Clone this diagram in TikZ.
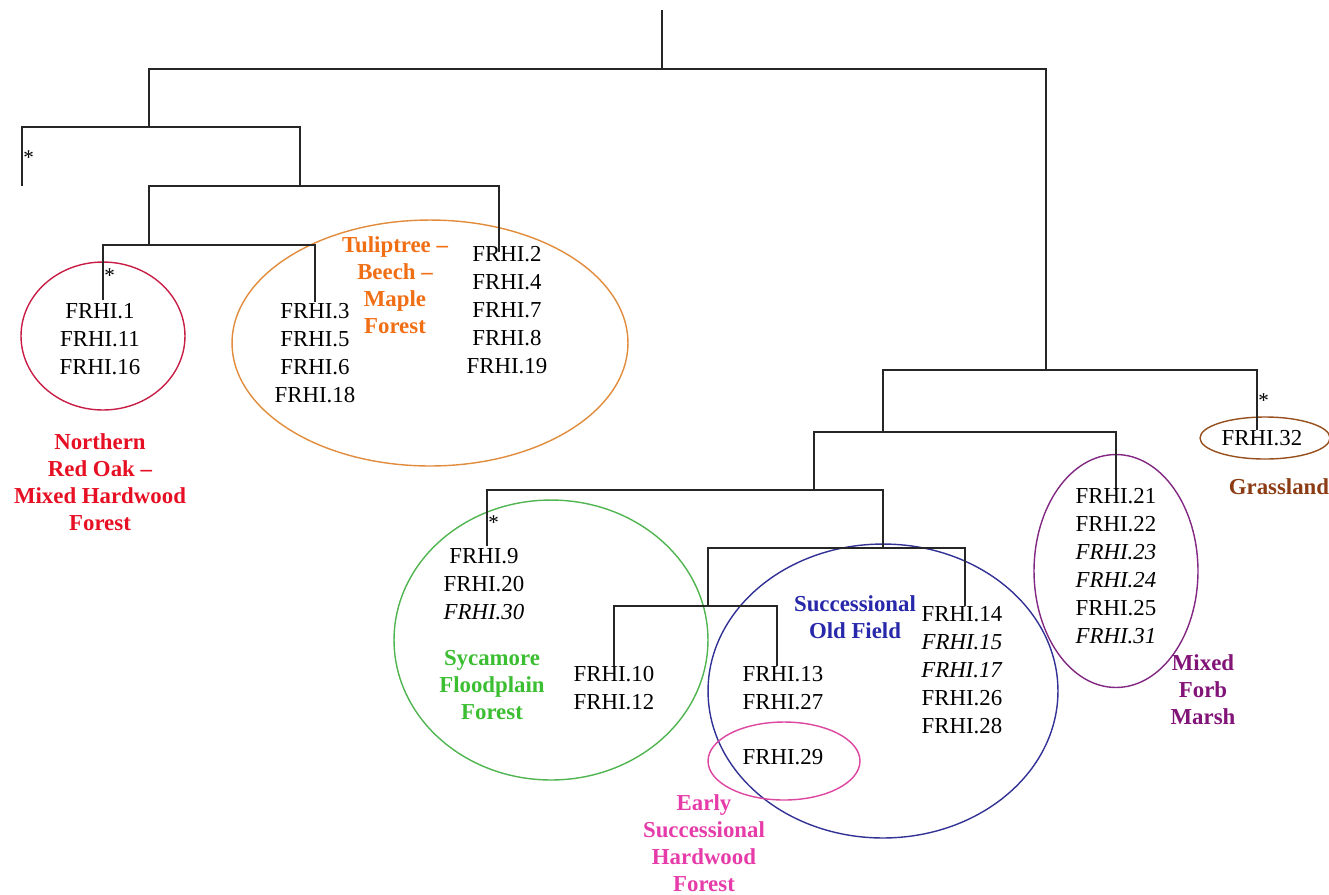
\documentclass[tikz,border=0pt]{standalone}
\usepackage{fontspec}
\setmainfont{Liberation Serif}
\definecolor{oakred}{RGB}{230,15,35}
\definecolor{oakring}{RGB}{200,30,70}
\definecolor{tulip}{RGB}{240,110,20}
\definecolor{tulipring}{RGB}{225,140,60}
\definecolor{syc}{RGB}{60,190,50}
\definecolor{sycring}{RGB}{80,180,80}
\definecolor{early}{RGB}{230,60,170}
\definecolor{earlyring}{RGB}{220,70,160}
\definecolor{succ}{RGB}{40,40,170}
\definecolor{succring}{RGB}{50,50,150}
\definecolor{marsh}{RGB}{130,20,120}
\definecolor{marshring}{RGB}{130,40,130}
\definecolor{grass}{RGB}{140,60,20}
\definecolor{grassring}{RGB}{150,80,30}
\begin{document}
\begin{tikzpicture}[x=0.02cm,y=-0.02cm,
    link/.style={line width=1.1pt,black!85},
    leaf/.style={align=center,inner sep=0pt,font=\fontsize{13}{16}\selectfont},
    tag/.style={align=center,inner sep=0pt,font=\fontsize{13}{15.4}\selectfont\bfseries},
    ring/.style={line width=0.8pt},
    star/.style={anchor=west,inner sep=0pt,font=\fontsize{12}{12}\selectfont}]
\useasboundingbox (0,0) rectangle (1329,894);

            % groups
            \draw[ring,oakring] (103,336) ellipse [x radius=1.64cm,y radius=1.48cm];
            \draw[ring,tulipring] (430,343) ellipse [x radius=3.96cm,y radius=2.46cm];
            \draw[ring,sycring] (551,640) ellipse [x radius=3.14cm,y radius=2.8cm];
            \draw[ring,succring] (883,691) ellipse [x radius=3.5cm,y radius=2.94cm];
            \draw[ring,earlyring] (784,761) ellipse [x radius=1.52cm,y radius=0.78cm];
            \draw[ring,marshring] (1116,571) ellipse [x radius=1.64cm,y radius=2.33cm];
            \draw[ring,grassring] (1265,438) ellipse [x radius=1.3cm,y radius=0.42cm];

            % vertices
            \coordinate (top) at (662,10);
            \coordinate (r0) at (662,69);
            \coordinate (c1) at (149,127);
            \coordinate (c2) at (1046,370);
            \coordinate (c3) at (300,186);
            \coordinate (c4) at (149,245);
            \coordinate (c5) at (883,432);
            \coordinate (c6) at (814,490);
            \coordinate (c7) at (883,548);
            \coordinate (c8) at (708,606);
            \coordinate (t0) at (22,186);
            \coordinate (t1) at (103,300);
            \coordinate (t3) at (315,302);
            \coordinate (t2) at (499,252);
            \coordinate (t9) at (487,546);
            \coordinate (t10) at (614,666);
            \coordinate (t13) at (777,666);
            \coordinate (t14) at (965,606);
            \coordinate (t21) at (1116,490);
            \coordinate (t32) at (1257,430);

            % edges
            \draw[link] (top) -- (r0);
            \draw[link] (c1) |- (r0) -| (c2);
            \draw[link] (t0) |- (c1) -| (c3);
            \draw[link] (c4) |- (c3) -| (t2);
            \draw[link] (t1) |- (c4) -| (t3);
            \draw[link] (c5) |- (c2) -| (t32);
            \draw[link] (c6) |- (c5) -| (t21);
            \draw[link] (t9) |- (c6) -| (c7);
            \draw[link] (c8) |- (c7) -| (t14);
            \draw[link] (t10) |- (c8) -| (t13);

            % stars
            \node[star] (s0) at (23,158) {*};
            \node[star] (s1) at (104,276) {*};
            \node[star] (s9) at (488,523) {*};
            \node[star] (s32) at (1258,401) {*};

            % leaves
            \node[leaf] (l1) at (100,339) {FRHI.1\\FRHI.11\\FRHI.16};
            \node[leaf] (l3) at (315,353) {FRHI.3\\FRHI.5\\FRHI.6\\FRHI.18};
            \node[leaf] (l2) at (507,310) {FRHI.2\\FRHI.4\\FRHI.7\\FRHI.8\\FRHI.19};
            \node[leaf] (l9) at (484,584) {FRHI.9\\FRHI.20\\\textit{FRHI.30}};
            \node[leaf] (l10) at (614,688) {FRHI.10\\FRHI.12};
            \node[leaf] (l13) at (783,688) {FRHI.13\\FRHI.27};
            \node[leaf] (l29) at (783,757) {FRHI.29};
            \node[leaf] (l14) at (962,670) {FRHI.14\\\textit{FRHI.15}\\\textit{FRHI.17}\\FRHI.26\\FRHI.28};
            \node[leaf] (l21) at (1116,566) {FRHI.21\\FRHI.22\\\textit{FRHI.23}\\\textit{FRHI.24}\\FRHI.25\\\textit{FRHI.31}};
            \node[leaf] (l32) at (1262,438) {FRHI.32};

            % labels
            \node[tag,oakred] (oak) at (100,482) {Northern\\Red Oak –\\Mixed Hardwood\\Forest};
            \node[tag,tulip] (tbm) at (395,285) {Tuliptree –\\Beech –\\Maple\\Forest};
            \node[tag,syc] (sfp) at (492,685) {Sycamore\\Floodplain\\Forest};
            \node[tag,early] (esh) at (704,843) {Early\\Successional\\Hardwood\\Forest};
            \node[tag,succ] (sof) at (855,617) {Successional\\Old Field};
            \node[tag,marsh] (mfm) at (1203,690) {Mixed\\Forb\\Marsh};
            \node[tag,grass] (gl) at (1279,487) {Grassland};
        \end{tikzpicture}
\end{document}
